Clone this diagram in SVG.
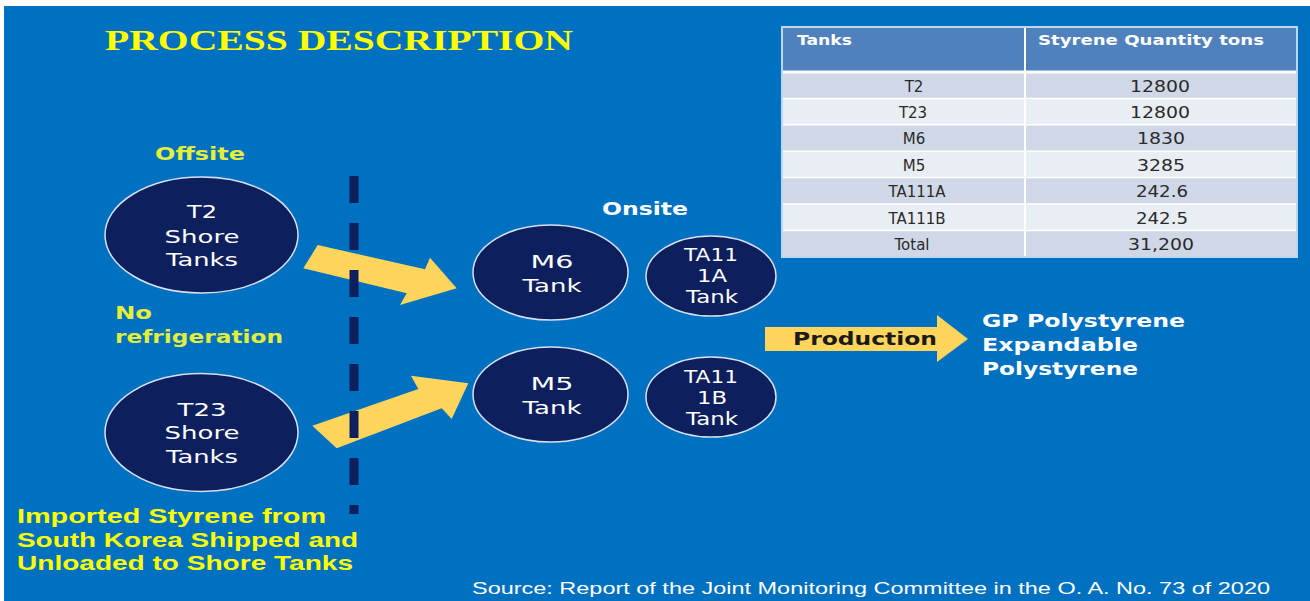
<svg xmlns="http://www.w3.org/2000/svg" width="1310" height="601" viewBox="0 0 1310 601">
<style>
.bg{fill:#0070C0}
.tank{fill:#0D1F5C;stroke:#D6E0F0;stroke-width:1.5}
.tl{font-family:"DejaVu Sans",Verdana,sans-serif;font-size:18px;fill:#FFFFFF;text-anchor:middle}
.wb{font-family:"DejaVu Sans",Verdana,sans-serif;font-size:17px;font-weight:bold;fill:#FFFFFF}
.yg{font-family:"DejaVu Sans",Verdana,sans-serif;font-size:17px;font-weight:bold;fill:#E3EF3A}
.yc{font-family:"Liberation Sans",Arial,sans-serif;font-size:20px;font-weight:bold;fill:#FFFF00}
.arrow{fill:#FFD55C}
.dash{stroke:#0D1F5C;stroke-width:9;stroke-dasharray:27 20;fill:none}
.th{font-family:"DejaVu Sans",Verdana,sans-serif;font-size:13.5px;font-weight:bold;fill:#FFFFFF}
.td{font-family:"DejaVu Sans",Verdana,sans-serif;font-size:15px;fill:#2A2A2A;text-anchor:middle}
.r1{fill:#D0D8E8}
.r2{fill:#E9EDF4}
.sep{stroke:#FFFFFF;stroke-width:1.5}
</style>
<rect x="0" y="0" width="1310" height="601" fill="#FFFFFF"/>
<rect class="bg" x="4" y="6" width="1306" height="595"/>

<g id="title">
<text x="105" y="50" font-family="'Liberation Serif','Times New Roman',serif" font-size="29" font-weight="bold" fill="#FFFF00" textLength="468" lengthAdjust="spacingAndGlyphs">PROCESS DESCRIPTION</text>
</g>

<g id="table">
<rect x="782" y="27" width="515" height="45" fill="#4F81BD"/>
<rect class="r1" x="782" y="72" width="515" height="26.4"/>
<rect class="r2" x="782" y="98.4" width="515" height="26.4"/>
<rect class="r1" x="782" y="124.8" width="515" height="26.4"/>
<rect class="r2" x="782" y="151.2" width="515" height="26.4"/>
<rect class="r1" x="782" y="177.6" width="515" height="26.4"/>
<rect class="r2" x="782" y="204" width="515" height="26.4"/>
<rect class="r1" x="782" y="230.4" width="515" height="26.6"/>
<line x1="782" y1="72" x2="1297" y2="72" stroke="#FFFFFF" stroke-width="3"/>
<line class="sep" x1="782" y1="98.4" x2="1297" y2="98.4"/>
<line class="sep" x1="782" y1="124.8" x2="1297" y2="124.8"/>
<line class="sep" x1="782" y1="151.2" x2="1297" y2="151.2"/>
<line class="sep" x1="782" y1="177.6" x2="1297" y2="177.6"/>
<line class="sep" x1="782" y1="204" x2="1297" y2="204"/>
<line class="sep" x1="782" y1="230.4" x2="1297" y2="230.4"/>
<line x1="1025" y1="27" x2="1025" y2="257" stroke="#FFFFFF" stroke-width="2"/>
<rect x="782" y="27" width="515" height="230" fill="none" stroke="#BDD7EE" stroke-width="2"/>
<text class="th" x="797" y="45" textLength="55" lengthAdjust="spacingAndGlyphs">Tanks</text>
<text class="th" x="1038" y="45" textLength="226" lengthAdjust="spacingAndGlyphs">Styrene Quantity tons</text>
<text class="td" x="914" y="91.5">T2</text>
<text class="td" x="1160" y="91.5" textLength="60" lengthAdjust="spacingAndGlyphs">12800</text>
<text class="td" x="913" y="117.9">T23</text>
<text class="td" x="1160" y="117.9" textLength="60" lengthAdjust="spacingAndGlyphs">12800</text>
<text class="td" x="914" y="144.3">M6</text>
<text class="td" x="1161" y="144.3" textLength="48" lengthAdjust="spacingAndGlyphs">1830</text>
<text class="td" x="914" y="170.7">M5</text>
<text class="td" x="1161" y="170.7" textLength="48" lengthAdjust="spacingAndGlyphs">3285</text>
<text class="td" x="917" y="197.1">TA111A</text>
<text class="td" x="1162" y="197.1" textLength="52" lengthAdjust="spacingAndGlyphs">242.6</text>
<text class="td" x="917" y="223.5">TA111B</text>
<text class="td" x="1162" y="223.5" textLength="52" lengthAdjust="spacingAndGlyphs">242.5</text>
<text class="td" x="912" y="249.9">Total</text>
<text class="td" x="1161" y="249.9" textLength="66" lengthAdjust="spacingAndGlyphs">31,200</text>
</g>

<g id="labels">
<text class="yg" x="155" y="160" textLength="90" lengthAdjust="spacingAndGlyphs">Offsite</text>
<text class="yg" x="115" y="319" textLength="37" lengthAdjust="spacingAndGlyphs">No</text>
<text class="yg" x="115" y="343" textLength="168" lengthAdjust="spacingAndGlyphs">refrigeration</text>
<text class="wb" x="602" y="215" textLength="86" lengthAdjust="spacingAndGlyphs">Onsite</text>
<text class="yc" x="17" y="523" textLength="309" lengthAdjust="spacingAndGlyphs">Imported Styrene from</text>
<text class="yc" x="17" y="547" textLength="341" lengthAdjust="spacingAndGlyphs">South Korea Shipped and</text>
<text class="yc" x="17" y="570" textLength="336" lengthAdjust="spacingAndGlyphs">Unloaded to Shore Tanks</text>
<text x="472" y="594" font-family="'Liberation Sans',Arial,sans-serif" font-size="16.5" fill="#FFFFFF" textLength="798" lengthAdjust="spacingAndGlyphs">Source: Report of the Joint Monitoring Committee in the O. A. No. 73 of 2020</text>
</g>

<g id="connectors">
<polygon class="arrow" points="317.7,245 425,269.3 430,257.7 456.7,288.3 400,305 406.7,293.3 303.3,268.3"/>
<polygon class="arrow" points="312.3,425.7 418.3,389 411,375.7 468.3,383.3 451.7,419 441.7,408.3 336.7,448.3"/>
<polygon class="arrow" points="765,327 937,327 937,315 968,339 937,362 937,351 765,351"/>
</g>

<g id="boundary">
<line class="dash" x1="354" y1="176" x2="354" y2="514"/>
</g>

<g id="production">
<text x="793" y="345" font-family="'DejaVu Sans',Verdana,sans-serif" font-size="18" font-weight="bold" fill="#1A1A1A" textLength="144" lengthAdjust="spacingAndGlyphs">Production</text>
</g>

<g id="products">
<text class="wb" x="982" y="327" textLength="203" lengthAdjust="spacingAndGlyphs" style="font-size:18px">GP Polystyrene</text>
<text class="wb" x="982" y="351" textLength="156" lengthAdjust="spacingAndGlyphs" style="font-size:18px">Expandable</text>
<text class="wb" x="982" y="375" textLength="156" lengthAdjust="spacingAndGlyphs" style="font-size:18px">Polystyrene</text>
</g>

<g id="T2">
<ellipse class="tank" cx="201.5" cy="235" rx="96.5" ry="58"/>
<text class="tl" x="202" y="218" textLength="30" lengthAdjust="spacingAndGlyphs">T2</text>
<text class="tl" x="202" y="243" textLength="75" lengthAdjust="spacingAndGlyphs">Shore</text>
<text class="tl" x="202" y="266" textLength="72" lengthAdjust="spacingAndGlyphs">Tanks</text>
</g>

<g id="T23">
<ellipse class="tank" cx="201.5" cy="432.5" rx="96.5" ry="59"/>
<text class="tl" x="202" y="416" textLength="49" lengthAdjust="spacingAndGlyphs">T23</text>
<text class="tl" x="202" y="439" textLength="75" lengthAdjust="spacingAndGlyphs">Shore</text>
<text class="tl" x="202" y="463" textLength="72" lengthAdjust="spacingAndGlyphs">Tanks</text>
</g>

<g id="M6">
<ellipse class="tank" cx="550.5" cy="272.5" rx="77.5" ry="47.5"/>
<text class="tl" x="552" y="268" textLength="43" lengthAdjust="spacingAndGlyphs">M6</text>
<text class="tl" x="552" y="292" textLength="59" lengthAdjust="spacingAndGlyphs">Tank</text>
</g>

<g id="TA111A">
<ellipse class="tank" cx="711" cy="276" rx="65" ry="40"/>
<text class="tl" x="711" y="261" textLength="54" lengthAdjust="spacingAndGlyphs">TA11</text>
<text class="tl" x="712" y="282" textLength="30" lengthAdjust="spacingAndGlyphs">1A</text>
<text class="tl" x="712" y="303" textLength="52" lengthAdjust="spacingAndGlyphs">Tank</text>
</g>

<g id="M5">
<ellipse class="tank" cx="550.5" cy="394.5" rx="77.5" ry="47.5"/>
<text class="tl" x="552" y="390" textLength="43" lengthAdjust="spacingAndGlyphs">M5</text>
<text class="tl" x="552" y="414" textLength="59" lengthAdjust="spacingAndGlyphs">Tank</text>
</g>

<g id="TA111B">
<ellipse class="tank" cx="711" cy="397" rx="65" ry="40"/>
<text class="tl" x="711" y="383" textLength="54" lengthAdjust="spacingAndGlyphs">TA11</text>
<text class="tl" x="712" y="404" textLength="30" lengthAdjust="spacingAndGlyphs">1B</text>
<text class="tl" x="712" y="425" textLength="52" lengthAdjust="spacingAndGlyphs">Tank</text>
</g>
</svg>
